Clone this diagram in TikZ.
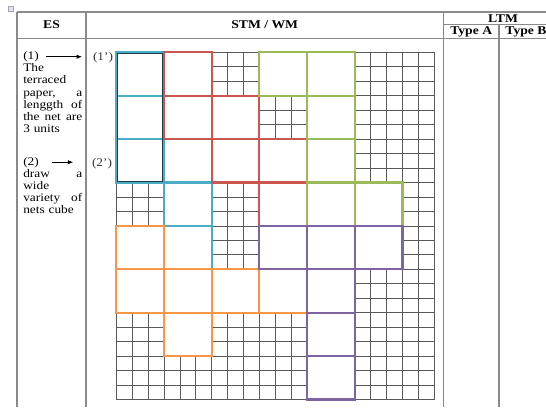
\documentclass[tikz,border=0pt]{standalone}
\usepackage{fontspec}
\setmainfont{Liberation Serif}[FakeStretch=1.15]
\usepackage{tikz}
\usetikzlibrary{arrows.meta}
\definecolor{ctA}{HTML}{4BACC6}
\definecolor{ctB}{HTML}{CD5550}
\definecolor{ctC}{HTML}{9BBB59}
\definecolor{ctD}{HTML}{F79646}
\definecolor{ctE}{HTML}{8064A2}
\definecolor{ctF}{HTML}{1E3C48}
\definecolor{ctG}{HTML}{8A8A8A}

\begin{document}
\begin{tikzpicture}[x=0.75pt, y=-0.75pt,
  every node/.style={font=\fontsize{8.7}{9.15}\selectfont, inner sep=0pt},
  head/.style={font=\fontsize{8.9}{9.15}\selectfont\bfseries, anchor=base},
  tabline/.style={ctG, line width=0.9pt},
  gridline/.style={black!65, line width=0.55pt},
  cube/.style={draw=#1, fill=white, line width=1.6pt},
  arr/.style={-{Latex[length=4pt,width=3.2pt]}, line width=0.6pt}]
  \useasboundingbox (0,0) rectangle (546,407);
  \draw[black!35, fill=blue!12, line width=0.4pt] (8.5,6.5) rectangle (13,11);
  \draw[tabline] (17,12) -- (546,12);
  \draw[tabline] (17,38.3) -- (546,38.3);
  \draw[tabline] (443.5,24.6) -- (546,24.6);
  \foreach \x in {17,86,443.5} \draw[tabline] (\x,12) -- (\x,407);
  \draw[tabline] (499,24.6) -- (499,407);
  \node[head] (es) at (51.5,28.5) {ES};
  \node[head] (stm) at (264.75,28.5) {STM / WM};
  \node[head] (ltm) at (503,22.3) {LTM};
  \node[head] (ta) at (471.2,34.6) {Type A};
  \node[head] (tb) at (526,34.6) {Type B};
  \node[anchor=base west] (n1) at (23,59.5) {(1)};
  \node[anchor=base west, text width=44.3pt, align=left] (p1) at (23,71.7)
    {The\\terraced\\paper,\hfill a\\lenggth\hfill of\\the\hfill net\hfill are\\3 units};
  \node[anchor=base west] (n2) at (23,165) {(2)};
  \node[anchor=base west, text width=44.3pt, align=left] (p2) at (23,177.2)
    {draw\hfill a\\wide\\variety\hfill of\\nets cube};
  \coordinate (t1) at (82,56.5);
  \coordinate (t2) at (73.3,161.5);
  \draw[arr, shorten <=5pt] (n1.east) -- (t1 |- n1.east);
  \draw[arr, shorten <=9.5pt] (n2.east) -- (t2 |- n2.east);
  \node[anchor=base, text=black!80] (m1) at (103,60) {(1’)};
  \node[anchor=base, text=black!80] (m2) at (102,166) {(2’)};
  \begin{scope}[shift={(116.3,52.3)}, x=11.925pt, y=-10.85pt]
    \foreach \i in {0,...,20} \draw[gridline] (\i,0) -- (\i,24);
    \foreach \j in {0,...,24} \draw[gridline] (0,\j) -- (20,\j);
    \foreach \c/\r in {0/0,0/1,0/2,1/2,1/3,1/4} \draw[cube=ctA] (3*\c,3*\r) rectangle ++(3,3);
    \foreach \c/\r in {1/0,1/1,2/1,2/2,3/2,3/3} \draw[cube=ctB] (3*\c,3*\r) rectangle ++(3,3);
    \foreach \c/\r in {3/0,4/0,4/1,4/2,4/3,5/3} \draw[cube=ctC] (3*\c,3*\r) rectangle ++(3,3);
    \foreach \c/\r in {0/4,0/5,1/5,2/5,3/5,1/6} \draw[cube=ctD] (3*\c,3*\r) rectangle ++(3,3);
    \foreach \c/\r in {3/4,4/4,5/4,4/5,4/6,4/7} \draw[cube=ctE] (3*\c,3*\r) rectangle ++(3,3);
    \draw[ctF, line width=0.75pt] (0.07,0.07) rectangle (2.93,8.93);
  \end{scope}
\end{tikzpicture}
\end{document}
